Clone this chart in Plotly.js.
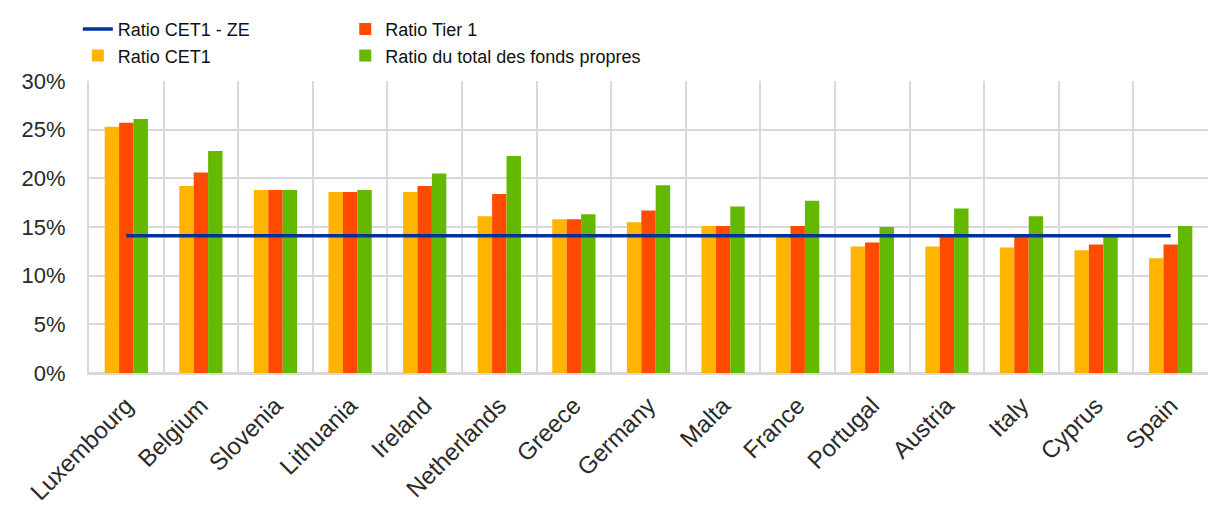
<!DOCTYPE html>
<html>
<head>
<meta charset="utf-8">
<script src="https://cdn.plot.ly/plotly-3.0.1.min.js"></script>
<style>html,body{margin:0;padding:0;background:#fff;}#chart{width:1209px;height:509px;}</style>
</head>
<body>
<div id="chart"></div>
<script>
const countries = ["Luxembourg","Belgium","Slovenia","Lithuania","Ireland","Netherlands","Greece","Germany","Malta","France","Portugal","Austria","Italy","Cyprus","Spain"];
const cet1 =  [25.3, 19.2, 18.8, 18.6, 18.6, 16.1, 15.8, 15.5, 15.1, 14.1, 13.0, 13.0, 12.9, 12.6, 11.8];
const tier1 = [25.7, 20.6, 18.8, 18.6, 19.2, 18.4, 15.8, 16.7, 15.1, 15.1, 13.4, 14.1, 14.1, 13.2, 13.2];
const totalCapital = [26.1, 22.8, 18.8, 18.8, 20.5, 22.3, 16.3, 19.3, 17.1, 17.7, 15.0, 16.9, 16.1, 14.0, 15.1];
const cet1EuroArea = 14.1;
const euroAreaLine = countries.map(() => cet1EuroArea);

const font = "Liberation Sans, Arial, sans-serif";
const traces = [
  {type:"bar", name:"Ratio CET1", x:countries, y:cet1, marker:{color:"#FFB400"}, legend:"legend", legendrank:2},
  {type:"bar", name:"Ratio Tier 1", x:countries, y:tier1, marker:{color:"#FF4B00"}, legend:"legend2", legendrank:1},
  {type:"bar", name:"Ratio du total des fonds propres", x:countries, y:totalCapital, marker:{color:"#65B800"}, legend:"legend2", legendrank:2},
  {type:"scatter", mode:"lines", name:"Ratio CET1 - ZE", x:countries, y:euroAreaLine, line:{color:"#003299", width:3.5}, legend:"legend", legendrank:1}
];
const legendFont = {family:font, size:18, color:"#111"};
const layout = {
  width:1209, height:509,
  margin:{l:89, r:1, t:81, b:136},
  paper_bgcolor:"#fff", plot_bgcolor:"#fff",
  barmode:"group", bargap:0.42, bargroupgap:0,
  font:{family:font, size:18, color:"#222"},
  showlegend:true,
  legend:{orientation:"v", x:-0.01, xanchor:"left", y:1.24, yanchor:"top", font:legendFont,
          traceorder:"normal", itemwidth:30, tracegroupgap:0, bgcolor:"rgba(0,0,0,0)"},
  legend2:{orientation:"v", x:0.229, xanchor:"left", y:1.24, yanchor:"top", font:legendFont,
          traceorder:"normal", itemwidth:30, tracegroupgap:0, bgcolor:"rgba(0,0,0,0)"},
  xaxis:{type:"category", tickson:"boundaries", showgrid:true, gridcolor:"#d9d9d9", gridwidth:2,
         showline:true, linecolor:"#d9d9d9", linewidth:2, ticks:"", tickangle:-45,
         ticklabelstandoff:7, tickfont:{family:font, size:24, color:"#2a2a2a"}},
  yaxis:{range:[0,30], dtick:5, ticksuffix:"%", showgrid:true, gridcolor:"#d9d9d9", gridwidth:2,
         zeroline:true, zerolinecolor:"#d9d9d9", zerolinewidth:2, showline:true, linecolor:"#d9d9d9", linewidth:2,
         ticks:"", ticklabelstandoff:17, tickfont:{family:font, size:22, color:"#2a2a2a"}}
};
Plotly.newPlot("chart", traces, layout, {displayModeBar:false, staticPlot:true});
</script>
</body>
</html>
